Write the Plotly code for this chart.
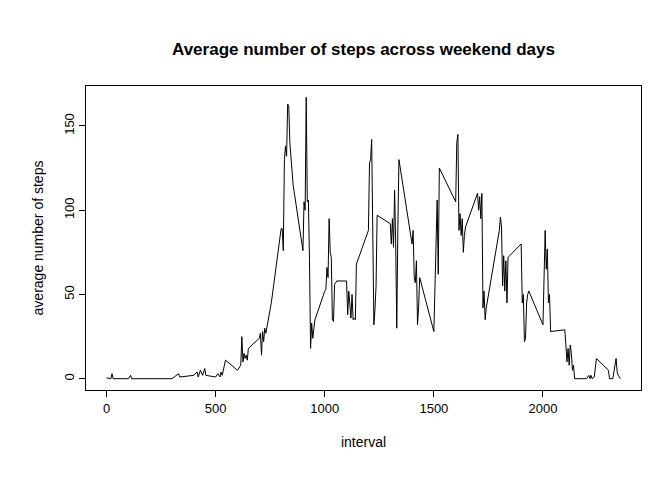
import plotly.graph_objects as go

# weekend average steps by 5-minute interval (HHMM)
interval = [0, 20, 25, 30, 100, 110, 115, 200, 300, 330, 335, 400, 415, 420, 430, 440, 450, 455,
            500, 510, 520, 525, 530, 545, 600, 615, 620, 625, 630, 635, 640, 645, 650,
            700, 705, 710, 715, 720, 725, 730, 755, 800, 805, 810, 815, 820, 825, 830, 835,
            840, 845, 855, 900, 905, 910, 915, 920, 925, 930, 935, 940, 945, 950, 955,
            1000, 1005, 1010, 1015, 1020, 1025, 1030, 1035, 1040, 1045, 1050, 1055,
            1100, 1105, 1110, 1115, 1120, 1125, 1130, 1135, 1140, 1145,
            1200, 1205, 1210, 1215, 1220, 1225, 1230, 1235, 1240,
            1300, 1305, 1310, 1315, 1320, 1325, 1330, 1335, 1340,
            1400, 1405, 1410, 1415, 1420, 1425, 1430, 1435,
            1500, 1505, 1510, 1515, 1520, 1525,
            1600, 1605, 1610, 1615, 1620, 1625, 1630, 1635, 1640, 1645,
            1700, 1705, 1710, 1715, 1720, 1725, 1730, 1735, 1740,
            1800, 1805, 1810, 1815, 1820, 1825, 1830, 1835, 1840,
            1900, 1905, 1910, 1915, 1920, 1925, 1930, 1935,
            2000, 2005, 2010, 2015, 2020, 2025, 2030, 2035,
            2100, 2105, 2110, 2115, 2120, 2125, 2130, 2135, 2140, 2145,
            2200, 2205, 2210, 2215, 2220, 2225, 2235, 2245,
            2300, 2305, 2310, 2320, 2335, 2340, 2345, 2355]
steps = [0.5, 0, 3, 0, 0, 2, 0, 0, 0, 3, 1, 2, 4, 1, 5, 2, 6, 2,
         1, 3, 1, 4, 2, 11, 5, 8, 25, 10, 15, 12, 14, 11, 18,
         24, 27, 14, 28, 22, 30, 27, 45, 89, 89, 76, 130, 138, 132, 163, 162,
         140, 130, 115, 76, 105, 100, 167, 105, 106, 70, 18, 33, 24, 30, 35,
         52, 53, 66, 60, 95, 75, 72, 35, 34, 56, 57, 58,
         58, 38, 52, 40, 36, 50, 35, 36, 35, 68,
         88, 128, 130, 142, 100, 32, 41, 55, 97,
         92, 80, 95, 78, 112, 80, 30, 90, 130,
         80, 88, 60, 57, 70, 32, 42, 60,
         28, 55, 70, 106, 62, 125,
         105, 140, 145, 88, 98, 85, 95, 75, 85, 90,
         110, 100, 108, 95, 110, 42, 52, 35, 42,
         88, 96, 90, 55, 73, 52, 70, 45, 72,
         80, 45, 50, 22, 24, 45, 50, 52,
         32, 55, 88, 65, 77, 45, 50, 28,
         29, 20, 10, 18, 8, 20, 15, 5, 8, 0,
         0, 1, 2, 0, 2, 0, 1, 12,
         5, 0, 0, 0, 12, 4, 2, 0]

font = "Liberation Sans, Arial, sans-serif"

fig = go.Figure(go.Scatter(x=interval, y=steps, mode="lines",
                           line=dict(color="black", width=1)))

axis_common = dict(showline=True, mirror=True, linecolor="black", linewidth=1,
                   ticks="outside", ticklen=6, tickcolor="black", showgrid=False,
                   zeroline=False, tickfont=dict(size=13, color="black"))

fig.update_layout(
    width=672, height=480,
    paper_bgcolor="white", plot_bgcolor="white",
    font=dict(family=font, color="black"),
    margin=dict(l=78, r=39, t=78, b=98),
    title=dict(text="<b>Average number of steps across weekend days</b>",
               x=0.5, xref="paper", y=0.915, yanchor="middle",
               font=dict(size=17)),
    xaxis=dict(axis_common, range=[-94.2, 2449.2], tickvals=[0, 500, 1000, 1500, 2000],
               title=dict(text="interval", font=dict(size=14), standoff=22)),
    yaxis=dict(axis_common, range=[-6.7, 173.7], tickvals=[0, 50, 100, 150], tickangle=-90,
               title=dict(text="average number of steps", font=dict(size=14), standoff=14)),
    showlegend=False,
)

fig.write_html("out.html")
